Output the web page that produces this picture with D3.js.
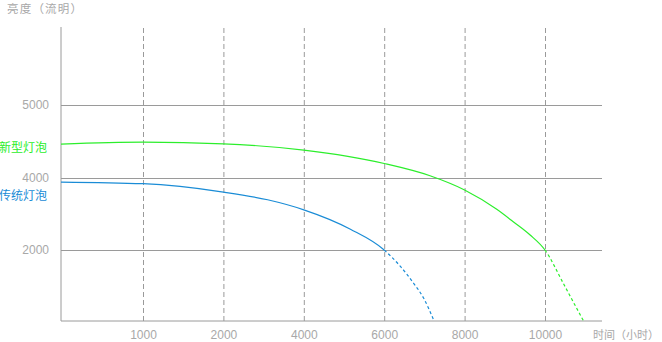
<!DOCTYPE html>
<html><head><meta charset="utf-8">
<script src="https://cdn.jsdelivr.net/npm/d3@7"></script>
<style>
html,body{margin:0;padding:0;background:#fff;}
svg{display:block;font-family:"Noto Sans CJK SC","Microsoft YaHei",sans-serif;}
</style></head>
<body>
<svg id="c" width="662" height="342"></svg>
<script>
const xTicks = [1000, 2000, 4000, 6000, 8000, 10000];
const yTicks = [2000, 4000, 5000];
const seriesNames = ["新型灯泡", "传统灯泡"];
const seriesColors = ["#2cee2c", "#1a8cd6"];
const labelLumens = [4420, 3500];
const solidUntil = [10000, 6000];
// 新型灯泡
const newHours  = [0, 1000, 2000, 4000, 6000, 7140, 8000, 8800, 9210, 9630, 10000, 10455, 10700, 10960];
const newLumens = [4464, 4491, 4468, 4382, 4199, 4031, 3667, 3131, 2786, 2417, 2000, 1062, 544, 0];
// 传统灯泡
const oldHours  = [0, 1000, 2000, 3100, 4000, 5160, 6000, 6733, 6983, 7240];
const oldLumens = [3888, 3841, 3609, 3395, 3116, 2577, 2000, 1062, 640, 0];
const xTitle = "时间（小时）";
const yTitle = "亮度（流明）";

const pL = 61, pR = 602, pT = 27, pB = 321;
const svg = d3.select("#c");

const x = d3.scaleLinear()
  .domain([0, ...xTicks])
  .range([pL, ...xTicks.map((d, i) => 143 + i * 80.4)]);
const y = d3.scaleLinear()
  .domain([0, ...yTicks])
  .range([pB, 250, 178, 105]);

const gray = "#9a9a9a";
const txt = "#a8a8a8";

// vertical dashed grid + x labels
const gx = svg.append("g").attr("transform", `translate(0,${pB})`)
  .call(d3.axisBottom(x).tickValues(xTicks).tickSize(-(pB - pT)).tickPadding(9).tickFormat(d3.format("d")));
gx.select(".domain").remove();
gx.selectAll(".tick line").attr("stroke", gray).attr("stroke-dasharray", "5,3");
gx.selectAll(".tick text").attr("fill", txt).attr("font-size", 12);

// horizontal grid + y labels
const gy = svg.append("g").attr("transform", `translate(${pL},0)`)
  .call(d3.axisLeft(y).tickValues(yTicks).tickSize(-(pR - pL)).tickPadding(12).tickFormat(d3.format("d")));
gy.select(".domain").remove();
gy.selectAll(".tick line").attr("stroke", gray);
gy.selectAll(".tick text").attr("fill", txt).attr("font-size", 12);

// axis lines
svg.append("line").attr("x1", pL).attr("x2", pL).attr("y1", pT).attr("y2", pB).attr("stroke", gray);
svg.append("line").attr("x1", pL).attr("x2", pR).attr("y1", pB).attr("y2", pB).attr("stroke", gray);

// titles
svg.append("text").attr("x", 7).attr("y", 13).attr("fill", txt).attr("font-size", 11.5)
  .attr("textLength", 75).attr("lengthAdjust", "spacing").text(yTitle);
svg.append("text").attr("x", 593).attr("y", 339).attr("fill", txt).attr("font-size", 11)
  .attr("textLength", 66).attr("lengthAdjust", "spacing").text(xTitle);

// series
const series = [
  {hours: newHours, lumens: newLumens},
  {hours: oldHours, lumens: oldLumens}
];
const line = d3.line().x(d => x(d[0])).y(d => y(d[1])).curve(d3.curveMonotoneX);
series.forEach((s, k) => {
  const pts = s.hours.map((h, i) => [h, s.lumens[i]]);
  const probe = svg.append("path").datum(pts).attr("d", line).attr("fill", "none").attr("stroke", "none");
  const node = probe.node();
  const L = node.getTotalLength();
  let lo = 0, hi = L;
  const sx = x(solidUntil[k]);
  for (let it = 0; it < 40; it++) { const m = (lo + hi) / 2; if (node.getPointAtLength(m).x < sx) lo = m; else hi = m; }
  const splitLen = lo;
  probe.remove();
  svg.append("path").datum(pts).attr("d", line).attr("fill", "none")
    .attr("stroke", seriesColors[k]).attr("stroke-width", 1.2)
    .attr("stroke-dasharray", `${splitLen},${L + 10}`);
  const arr = [0, splitLen];
  let r = L - splitLen;
  while (r > 0) { arr.push(3, 2.5); r -= 5.5; }
  svg.append("path").datum(pts).attr("d", line).attr("fill", "none")
    .attr("stroke", seriesColors[k]).attr("stroke-width", 1.2)
    .attr("stroke-dasharray", arr.join(","));
  svg.append("text").attr("x", pL - 14).attr("y", y(labelLumens[k]))
    .attr("dy", "0.35em").attr("text-anchor", "end").attr("font-size", 12)
    .attr("fill", seriesColors[k]).text(seriesNames[k]);
});
</script>
</body></html>
